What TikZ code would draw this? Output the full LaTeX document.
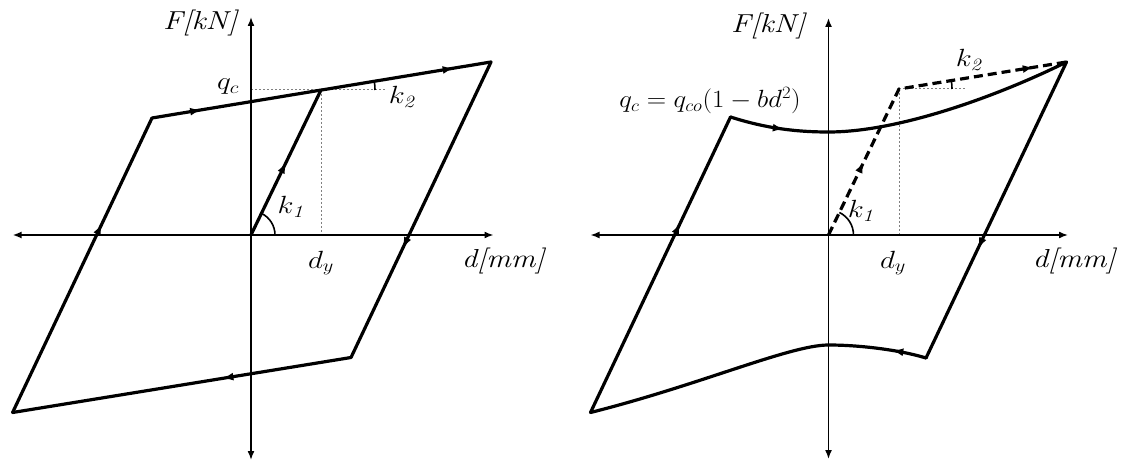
\documentclass[tikz,border=0pt]{standalone}
\usepackage{graphicx}
\usetikzlibrary{arrows.meta,decorations.markings}
\newcommand{\lbl}[1]{\scalebox{1.18}[1]{#1}}
\tikzset{
  lbl/.style={inner sep=0pt, font=\fontsize{26}{30}\selectfont},
  axis/.style={line width=1.6pt, arrows={Latex[length=9pt,width=7pt]-Latex[length=9pt,width=7pt]}},
  curve/.style={line width=3.2pt, line cap=round, line join=round},
  guide/.style={line width=1pt, gray, dash pattern=on 2pt off 2pt},
  dashcurve/.style={curve, dash pattern=on 9pt off 5pt, line cap=butt},
  arrowat/.style={postaction={decorate}, decoration={markings, mark=at position #1 with {\arrow{Latex[length=11pt,width=8pt]}}}},
  arrowtwo/.style 2 args={postaction={decorate}, decoration={markings, mark=at position #1 with {\arrow{Latex[length=11pt,width=8pt]}}, mark=at position #2 with {\arrow{Latex[length=11pt,width=8pt]}}}},
  angarc/.style={line width=1.6pt},
}
\begin{document}
\begin{tikzpicture}[x=1pt,y=-1pt]
\useasboundingbox (0,0) rectangle (1123,470);
% ---------- left panel ----------
\coordinate (O1) at (251,235);
\coordinate (Y1) at (321,90);
\coordinate (TL1) at (152,118);
\coordinate (TR1) at (491,62);
\coordinate (BR1) at (351,357.5);
\coordinate (BL1) at (12.6,412.5);
\coordinate (XL1) at (12.6,235);
\coordinate (XR1) at (493.5,235);
\coordinate (YT1) at (251,17);
\coordinate (YB1) at (251,460);
\coordinate (G1) at (251,90);
\coordinate (GE1) at (386,90);
\coordinate (GD1) at (321,235);
\draw[guide] (G1) -- (GE1);
\draw[guide] (Y1) -- (GD1);
\draw[axis] (XL1) -- (XR1);
\draw[axis] (YB1) -- (YT1);
\draw[curve, arrowat=0.5] (O1) -- (Y1);
\draw[curve, arrowtwo={0.145}{0.89}] (TL1) -- (TR1);
\draw[curve, arrowat=0.63] (TR1) -- (BR1);
\draw[curve, arrowat=0.38] (BR1) -- (BL1);
\draw[curve, arrowat=0.64] (BL1) -- (TL1);
\draw[angarc] ([xshift=24pt]O1) arc[start angle=0,end angle=64,radius=24pt];
\draw[angarc] ([xshift=54pt]Y1) arc[start angle=0,end angle=9.4,radius=54pt];
\node[lbl] (F1) at (201,23) {\lbl{\textit{F[kN]}}};
\node[lbl] (q1) at (228,87) {\lbl{$q_c$}};
\node[lbl] (k21) at (403,97) {\lbl{$k_{\mathit{2}}$}};
\node[lbl] (k11) at (292,207) {\lbl{$k_{\mathit{1}}$}};
\node[lbl] (dy1) at (321,263) {\lbl{$d_y$}};
\node[lbl] (dm1) at (504,261) {\lbl{\textit{d[mm]}}};
% ---------- right panel ----------
\coordinate (O2) at (828.5,235);
\coordinate (Y2) at (899,89);
\coordinate (TL2) at (730.5,117);
\coordinate (TR2) at (1066.5,62);
\coordinate (BR2) at (926,358);
\coordinate (BL2) at (590.5,412.5);
\coordinate (MU2) at (828.5,132);
\coordinate (ML2) at (828.5,345);
\coordinate (XL2) at (590.5,235);
\coordinate (XR2) at (1068,235);
\coordinate (YT2) at (828.5,18);
\coordinate (YB2) at (828.5,459);
\coordinate (GE2) at (965,89);
\coordinate (GD2) at (899,235);
\draw[guide] (Y2) -- (GE2);
\draw[guide] (Y2) -- (GD2);
\draw[axis] (XL2) -- (XR2);
\draw[axis] (YB2) -- (YT2);
\draw[dashcurve, arrowtwo={0.244}{0.9}] (O2) -- (Y2) -- (TR2);
\draw[curve, arrowat=0.55] (TL2) .. controls (765,128) and (795,132) .. (MU2);
\draw[curve] (MU2) .. controls (900,132) and (1000,95) .. (TR2);
\draw[curve, arrowat=0.63] (TR2) -- (BR2);
\draw[curve, arrowat=0.35] (BR2) .. controls (900,350) and (860,345) .. (ML2);
\draw[curve] (ML2) .. controls (790,345) and (700,385) .. (BL2);
\draw[curve, arrowat=0.64] (BL2) -- (TL2);
\draw[angarc] ([xshift=25pt]O2) arc[start angle=0,end angle=64.2,radius=25pt];
\draw[angarc] ([xshift=53pt]Y2) arc[start angle=0,end angle=9.2,radius=53pt];
\node[lbl] (F2) at (769,26) {\lbl{\textit{F[kN]}}};
\node[lbl] (qf2) at (710,100.5) {\scalebox{1.08}[1]{$q_c = q_{co}(1 - bd^2)$}};
\node[lbl] (k22) at (970,60) {\lbl{$k_{\mathit{2}}$}};
\node[lbl] (k12) at (862,211) {\lbl{$k_{\mathit{1}}$}};
\node[lbl] (dy2) at (893,263) {\lbl{$d_y$}};
\node[lbl] (dm2) at (1075,261) {\lbl{\textit{d[mm]}}};
\end{tikzpicture}
\end{document}
